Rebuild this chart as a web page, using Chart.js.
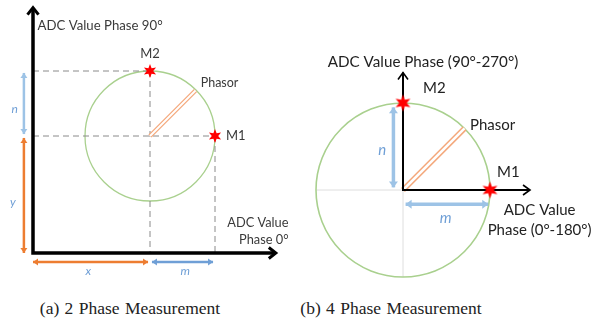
<!DOCTYPE html>
<html><head><meta charset="utf-8">
<script src="https://cdn.jsdelivr.net/npm/chart.js@4"></script>
<style>
html,body{margin:0;padding:0;background:#fff;}
#wrap{position:relative;width:603px;height:326px;overflow:hidden;background:#fff;}
canvas{position:absolute;top:0;}
.cap{position:absolute;top:300px;font-family:"Liberation Serif","Times New Roman",serif;font-size:17.5px;line-height:1;color:#222;white-space:nowrap;transform:translateX(-50%);word-spacing:1px;}
</style></head>
<body><div id="wrap">
<canvas id="left" width="300" height="290" style="left:0"></canvas>
<canvas id="right" width="303" height="290" style="left:300px"></canvas>
<div class="cap" id="capA" style="left:130px"></div>
<div class="cap" id="capB" style="left:391px"></div>
</div>
<script>
// ================= DATA (units: phasor amplitude = 1) =================
// (a) 2 phase measurement
const aCenter   = [1.8, 1.8];
const aRadius   = [1];
const aM1       = [2.8, 1.8];
const aM2       = [1.8, 2.8];
const aPhasor   = [2.5, 2.5];
const aAxisLen  = [3.72, 3.76];          // x-axis length, y-axis length
const aTexts    = ['ADC Value Phase 90°', 'M2', 'Phasor', 'M1', 'ADC Value', 'Phase 0°'];
const aDimTexts = ['n', 'y', 'x', 'm'];
// (b) 4 phase measurement
const bCenter   = [0, 0];
const bRadius   = [1];
const bM1       = [1, 0];
const bM2       = [0, 1];
const bPhasor   = [0.707, 0.707];
const bAxisLen  = [1.46, 1.35];
const bTexts    = ['ADC Value Phase (90°-270°)', 'M2', 'Phasor', 'M1', 'ADC Value', 'Phase (0°-180°)'];
const bDimTexts = ['n', 'm'];
const captions  = ['(a) 2 Phase Measurement', '(b) 4 Phase Measurement'];

// ================= STYLE / LAYOUT =================
const GREEN = '#a9d08e', RED = '#ff0000', ORANGE = '#ed7d31', PH_OR = '#f4a77a',
      LBLUE = '#9dc3e6', TBLUE = '#6f9fd6', DASH = '#8a8a8a';
const aTextPos = [[0.07,3.5,'left',13.2],[1.8,3.06,'center',13],[2.58,2.62,'left',12.5],[2.97,1.8,'left',13],[3.93,0.46,'right',12.8],[3.93,0.2,'right',12.8]];
const aDimPos  = [[-0.28,2.22],[-0.31,0.78],[0.85,-0.28],[2.34,-0.28]];
const bTextPos = [[0.23,1.47,'center',15.2],[0.23,1.17,'left',15],[0.77,0.75,'left',15],[1.08,0.21,'left',15],[1.57,-0.23,'center',15],[1.57,-0.46,'center',15]];
const bDimPos  = [[-0.24,0.46],[0.49,-0.32]];
const FONT = 'Lato, "Open Sans", sans-serif';

document.getElementById('capA').textContent = captions[0];
document.getElementById('capB').textContent = captions[1];

function makeStar(R, r, n){
  const s = Math.ceil(R*2+2), c = document.createElement('canvas');
  c.width = c.height = s; const g = c.getContext('2d');
  g.fillStyle = RED; g.beginPath();
  for (let i = 0; i < 2*n; i++){
    const rr = i%2 ? r : R, a = Math.PI*i/n - Math.PI/2;
    g.lineTo(s/2 + rr*Math.cos(a), s/2 + rr*Math.sin(a));
  }
  g.closePath(); g.fill(); return c;
}
const starA = makeStar(7, 3.2, 6), starB = makeStar(8.5, 3.8, 6);

const P = (a) => ({x:a[0], y:a[1]});
function line(points, color, width, extra){
  return Object.assign({data: points.map(P), showLine:true, borderColor:color, borderWidth:width,
    pointRadius:0, fill:false, clip:false, tension:0, borderCapStyle:'butt', borderJoinStyle:'miter'}, extra||{});
}
function circle(center, r, color, w){
  return {data:[P(center)], showLine:false, clip:false,
    pointRadius: ctx => { const s = ctx.chart.scales.x; return Math.abs(s.getPixelForValue(r) - s.getPixelForValue(0)); },
    pointBackgroundColor:'rgba(0,0,0,0)', pointBorderColor:color, pointBorderWidth:w};
}
function stars(pts, img){
  return {data: pts.map(P), showLine:false, clip:false, pointStyle: img, pointRadius: 7};
}
function ordered(list){ list.forEach((d,i)=>{ d.order = list.length - i; }); return list; }

function drawHead(ctx, x0, y0, x1, y1, h, color){
  const a = Math.atan2(y1-y0, x1-x0), c = Math.cos(a), s = Math.sin(a);
  const tx = x1 + c*(h.ext||0), ty = y1 + s*(h.ext||0);
  const bx = tx - c*h.len, by = ty - s*h.len;
  const lx = bx - s*h.half, ly = by + c*h.half, rx = bx + s*h.half, ry = by - c*h.half;
  ctx.save(); ctx.beginPath();
  if (h.filled){
    ctx.fillStyle = color; ctx.moveTo(tx,ty); ctx.lineTo(lx,ly); ctx.lineTo(rx,ry); ctx.closePath(); ctx.fill();
  } else {
    ctx.strokeStyle = color; ctx.lineWidth = h.width; ctx.lineCap = 'butt'; ctx.lineJoin = 'miter';
    ctx.moveTo(lx,ly); ctx.lineTo(tx,ty); ctx.lineTo(rx,ry); ctx.stroke();
  }
  ctx.restore();
}
const arrowPlugin = {
  id:'arrowheads',
  afterDatasetsDraw(chart){
    const ctx = chart.ctx;
    chart.data.datasets.forEach((ds,i) => {
      if (!ds.arrow) return;
      const pts = chart.getDatasetMeta(i).data, n = pts.length;
      const heads = [[pts[n-2], pts[n-1]]];
      if (ds.arrow === 'both') heads.push([pts[1], pts[0]]);
      heads.forEach(([p,q]) => drawHead(ctx, p.x, p.y, q.x, q.y, ds.head, ds.borderColor));
    });
  }
};
function textPlugin(items){
  return { id:'texts', afterDraw(chart){
    const ctx = chart.ctx, sx = chart.scales.x, sy = chart.scales.y;
    ctx.save(); ctx.textBaseline = 'middle';
    items.forEach(t => {
      ctx.font = (t.style||'') + ' ' + t.size + 'px ' + FONT;
      ctx.fillStyle = t.color; ctx.textAlign = t.align;
      ctx.fillText(t.text, sx.getPixelForValue(t.x), sy.getPixelForValue(t.y));
    });
    ctx.restore();
  }};
}
function build(id, unit, ox, oy, datasets, texts){
  const c = document.getElementById(id), W = c.width, H = c.height;
  return new Chart(c, {
    type:'scatter',
    data:{datasets: ordered(datasets)},
    options:{responsive:false, animation:false, events:[], layout:{padding:0, autoPadding:false},
      plugins:{legend:{display:false}, tooltip:{enabled:false}, title:{display:false}},
      scales:{
        x:{type:'linear', display:false, min:-ox/unit, max:(W-ox)/unit},
        y:{type:'linear', display:false, min:-(H-oy)/unit, max:oy/unit}
      }},
    plugins:[arrowPlugin, textPlugin(texts)]
  });
}

// ---------- (a) ----------
const gap = 0.03, aOff = -0.14;
const aDash = {borderDash:[6,4]};
const aSets = [
  circle(aCenter, aRadius[0], GREEN, 1.3),
  line([[0,aM2[1]], aM2], DASH, 1, aDash),
  line([[0,aCenter[1]], aM1], DASH, 1, aDash),
  line([aM2, [aM2[0],0]], DASH, 1, aDash),
  line([aM1, [aM1[0],0]], DASH, 1, aDash),
  line([[0,aAxisLen[1]],[0,0],[aAxisLen[0],0]], '#000', 3.5, {arrow:'both', head:{filled:false, len:7, half:5.5, width:3, ext:1}}),
  line([[aOff,aCenter[1]+gap],[aOff,aM2[1]-gap]], LBLUE, 2.5, {arrow:'both', head:{filled:true, len:5, half:3.5}}),
  line([[aOff,0],[aOff,aCenter[1]-gap]], ORANGE, 2.5, {arrow:'both', head:{filled:true, len:5, half:3.5}}),
  line([[0,aOff],[aCenter[0]-gap,aOff]], ORANGE, 2.5, {arrow:'both', head:{filled:true, len:5, half:3.5}}),
  line([[aCenter[0]+gap,aOff],[aM1[0]-gap,aOff]], '#6f9fd6', 2.5, {arrow:'both', head:{filled:true, len:5, half:3.5}}),
  line([aCenter, aPhasor], PH_OR, 4.5),
  line([aCenter, aPhasor], '#fff', 2),
  stars([aM1, aM2], starA)
];
const aTextItems = aTexts.map((t,i)=>({text:t, x:aTextPos[i][0], y:aTextPos[i][1], align:aTextPos[i][2], size:aTextPos[i][3], color:'#3a3a3a'}))
  .concat(aDimTexts.map((t,i)=>({text:t, x:aDimPos[i][0], y:aDimPos[i][1], align:'center', size:12, color:TBLUE, style:'italic'})));
build('left', 65, 33, 253, aSets, aTextItems);

// ---------- (b) ----------
const bSets = [
  line([[bCenter[0]-bRadius[0],0],[bCenter[0]+bRadius[0],0]], '#dedede', 1),
  line([[0,bCenter[1]-bRadius[0]],[0,bCenter[1]+bRadius[0]]], '#dedede', 1),
  circle(bCenter, bRadius[0], GREEN, 1.6),
  line([[-0.11,bCenter[1]+gap],[-0.11,bM2[1]-0.05]], LBLUE, 3.5, {arrow:'both', head:{filled:true, len:6, half:4.5}}),
  line([[bCenter[0]+gap,-0.165],[bM1[0]-0.02,-0.165]], LBLUE, 3.5, {arrow:'both', head:{filled:true, len:6, half:4.5}}),
  line([bCenter, bPhasor], PH_OR, 5.5),
  line([bCenter, bPhasor], '#fff', 2.5),
  line([[0,bAxisLen[1]],[0,0],[bAxisLen[0],0]], '#000', 2, {arrow:'both', head:{filled:false, len:7, half:5, width:1.6, ext:0}}),
  stars([bM1, bM2], starB)
];
const bTextItems = bTexts.map((t,i)=>({text:t, x:bTextPos[i][0], y:bTextPos[i][1], align:bTextPos[i][2], size:bTextPos[i][3], color:'#222'}))
  .concat(bDimTexts.map((t,i)=>({text:t, x:bDimPos[i][0], y:bDimPos[i][1], align:'center', size:15, color:TBLUE, style:'italic'})));
build('right', 87, 103, 190, bSets, bTextItems);
</script>
</body></html>
